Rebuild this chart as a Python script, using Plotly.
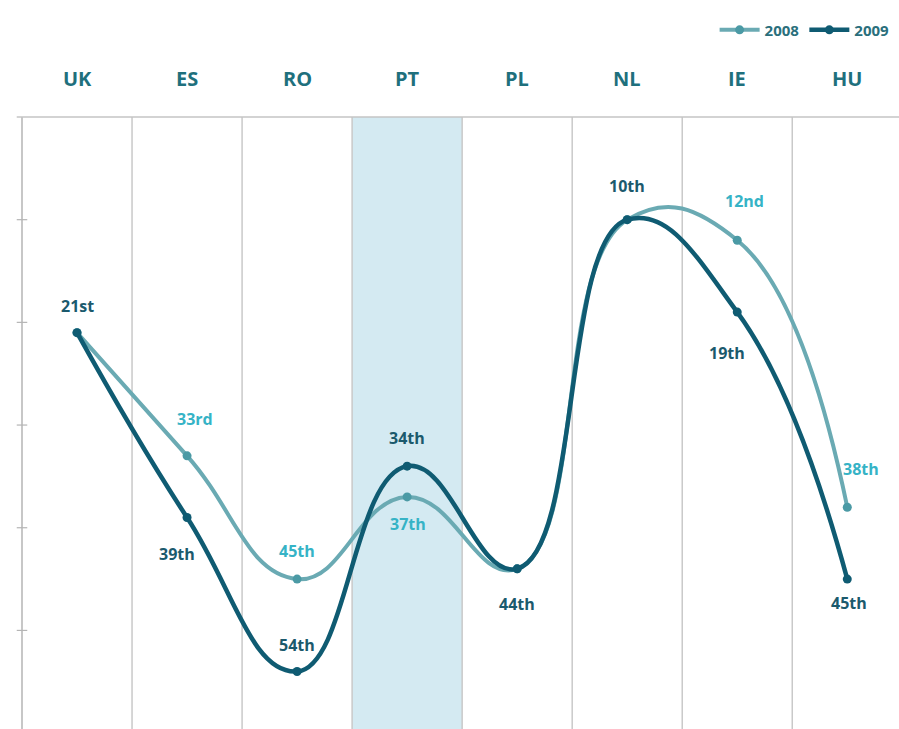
import plotly.graph_objects as go

# Country ranking by year (lower rank number = better)
countries = ["UK", "ES", "RO", "PT", "PL", "NL", "IE", "HU"]
rank_2008 = [21, 33, 45, 37, 44, 10, 12, 38]
rank_2009 = [21, 39, 54, 34, 44, 10, 19, 45]
labels_2008 = ["", "33rd", "45th", "37th", "", "", "12nd", "38th"]
labels_2009 = ["21st", "39th", "54th", "34th", "44th", "10th", "19th", "45th"]
y_ticks = [10, 20, 30, 40, 50]
highlight = "PT"

# label offsets in pixels (dx, dy) relative to each point
off_2008 = [(0, 0), (8, 37), (0, 28), (1, -27), (0, 0), (0, 0), (7, 39), (14, 38)]
off_2009 = [(0, 27), (-10, -37), (0, 27), (0, 28), (0, -35), (0, 34), (-10, -41), (2, -24)]

C08_LINE = "#6aaab3"
C08_MARK = "#4b9aa5"
C08_TEXT = "#36b3c6"
C09_LINE = "#0f5b72"
C09_TEXT = "#1b5a6d"
CAT_TEXT = "#1f707d"
GRID = "#c9c9c9"

xs = list(range(len(countries)))

fig = go.Figure()

fig.add_trace(go.Scatter(
    x=xs, y=rank_2008, name="2008", mode="lines+markers",
    line=dict(color=C08_LINE, width=4, shape="spline", smoothing=1.3),
    marker=dict(color=C08_MARK, size=9),
))
fig.add_trace(go.Scatter(
    x=xs, y=rank_2009, name="2009", mode="lines+markers",
    line=dict(color=C09_LINE, width=4.5, shape="spline", smoothing=1.3),
    marker=dict(color=C09_LINE, size=9),
))

shapes = []
# highlighted column
hi = countries.index(highlight)
shapes.append(dict(type="rect", xref="x", yref="paper", x0=hi - 0.5, x1=hi + 0.5,
                   y0=0, y1=1, fillcolor="#d4eaf2", line=dict(width=0), layer="below"))
# column separators
for i in range(1, len(countries)):
    shapes.append(dict(type="line", xref="x", yref="paper", x0=i - 0.5, x1=i - 0.5,
                       y0=0, y1=1, line=dict(color=GRID, width=1.5), layer="below"))
# left axis line and top border
shapes.append(dict(type="line", xref="paper", yref="paper", x0=0, x1=0, y0=0, y1=1,
                   line=dict(color="#b5b5b5", width=1.5), layer="below"))
shapes.append(dict(type="line", xref="paper", yref="paper", x0=-0.006, x1=1, y0=1, y1=1,
                   line=dict(color="#c4c4c4", width=1.5), layer="below"))
# crossing tick marks on the left axis
for t in y_ticks:
    shapes.append(dict(type="line", xref="paper", yref="y", x0=-0.006, x1=0.006, y0=t, y1=t,
                       line=dict(color="#b5b5b5", width=1.2)))

annotations = []
for i, c in enumerate(countries):
    annotations.append(dict(x=i, y=1, xref="x", yref="paper", text=c, showarrow=False,
                            yshift=39, yanchor="middle",
                            font=dict(family="Open Sans", size=20, color=CAT_TEXT, weight="bold")))
for i in xs:
    if labels_2008[i]:
        dx, dy = off_2008[i]
        annotations.append(dict(x=i, y=rank_2008[i], text=labels_2008[i], showarrow=False,
                                xshift=dx, yshift=dy,
                                font=dict(family="Open Sans", size=16, color=C08_TEXT, weight="bold")))
    if labels_2009[i]:
        dx, dy = off_2009[i]
        annotations.append(dict(x=i, y=rank_2009[i], text=labels_2009[i], showarrow=False,
                                xshift=dx, yshift=dy,
                                font=dict(family="Open Sans", size=16, color=C09_TEXT, weight="bold")))

fig.update_layout(
    width=899, height=729,
    margin=dict(l=22, r=0, t=117, b=0),
    paper_bgcolor="white", plot_bgcolor="white",
    shapes=shapes, annotations=annotations,
    showlegend=True,
    legend=dict(orientation="h", x=0.995, xanchor="right", y=1.142, yanchor="middle",
                font=dict(family="Open Sans", size=15, color="#2a6f7c", weight="bold"),
                itemwidth=40, tracegroupgap=0, bgcolor="rgba(0,0,0,0)"),
    xaxis=dict(range=[-0.5, 7.47], showgrid=False, zeroline=False, showticklabels=False,
               showline=False, fixedrange=True),
    yaxis=dict(range=[59.6, 0], showgrid=False, zeroline=False, showticklabels=False,
               showline=False, tickvals=y_ticks, fixedrange=True),
)

fig.write_html("out.html")
